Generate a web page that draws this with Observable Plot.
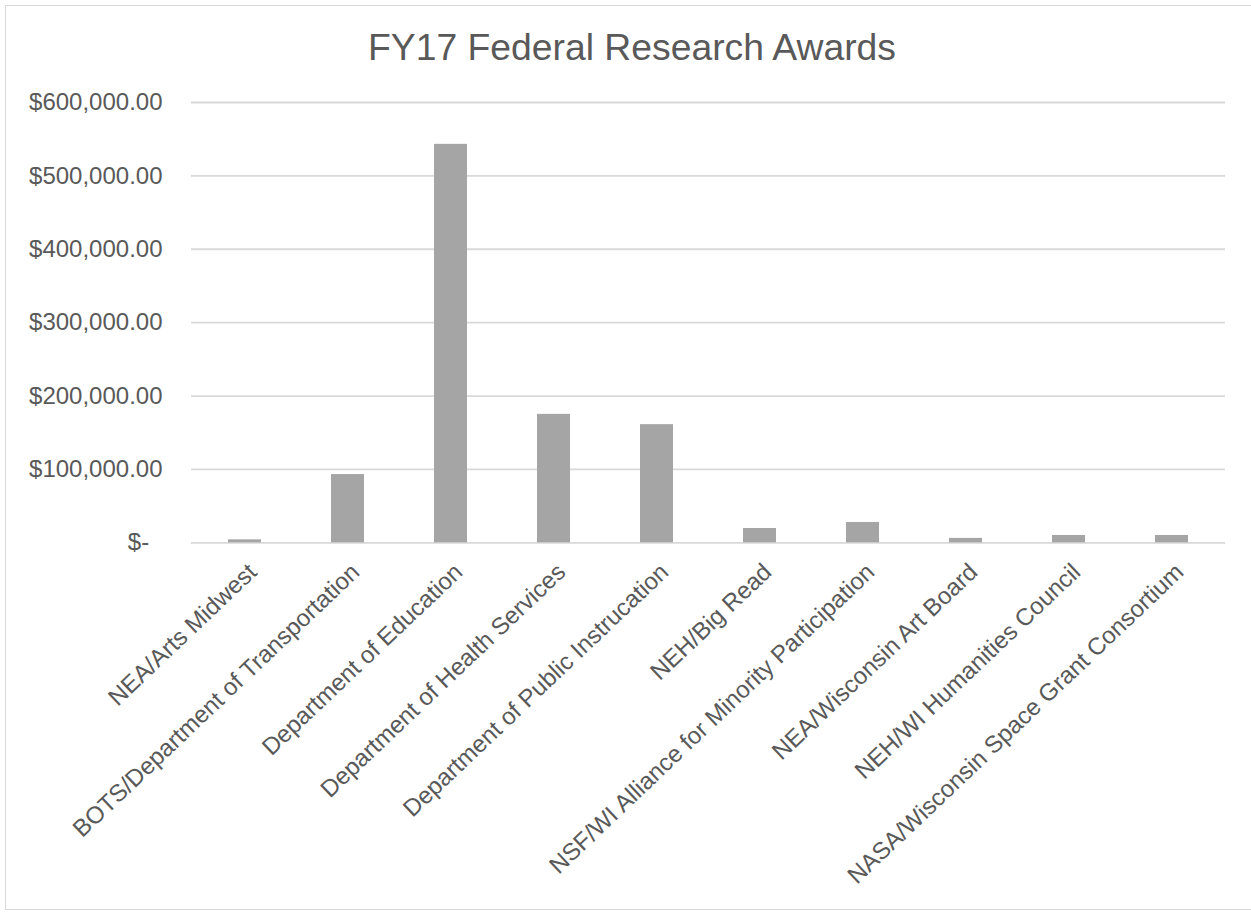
<!DOCTYPE html>
<html>
<head>
<meta charset="utf-8">
<script src="https://cdn.jsdelivr.net/npm/d3@7"></script>
<script src="https://cdn.jsdelivr.net/npm/@observablehq/plot@0.6"></script>
<style>
  html, body { margin: 0; padding: 0; background: #fff; }
  body { width: 1251px; height: 913px; position: relative; overflow: hidden; font-family: "Liberation Sans", Arial, sans-serif; }
  #frame { position: absolute; left: 5px; top: 5px; width: 1260px; height: 905px; border: 1.5px solid #D9D9D9; box-sizing: border-box; }
  #title { position: absolute; top: 29px; left: 632px; transform: translateX(-50%); white-space: nowrap;
           font-size: 37.3px; line-height: 1; color: #595959; font-family: "Liberation Sans", Arial, sans-serif; }
  #chart { position: absolute; left: 0; top: 0; }
</style>
</head>
<body>
<div id="frame"></div>
<div id="title">FY17 Federal Research Awards</div>
<div id="chart"></div>
<script>
const categories = [
  "NEA/Arts Midwest",
  "BOTS/Department of Transportation",
  "Department of Education",
  "Department of Health Services",
  "Department of Public Instrucation",
  "NEH/Big Read",
  "NSF/WI Alliance for Minority Participation",
  "NEA/Wisconsin Art Board",
  "NEH/WI Humanities Council",
  "NASA/Wisconsin Space Grant Consortium"
];
const awards = [4000, 93000, 543000, 175000, 161000, 19500, 27700, 6000, 10000, 10000];
const yTicks = [0, 100000, 200000, 300000, 400000, 500000, 600000];

const data = categories.map((c, i) => ({category: c, award: awards[i]}));

const fmt = d3.format(",.2f");
const tickFmt = d => d === 0 ? "$-\u00a0\u00a0" : "$" + fmt(d);

const chart = Plot.plot({
  width: 1251,
  height: 913,
  marginTop: 102,
  marginBottom: 370.7,
  marginLeft: 191,
  marginRight: 26,
  style: {fontFamily: "'Liberation Sans', Arial, sans-serif", color: "#595959", background: "transparent", overflow: "visible"},
  x: {domain: categories, paddingInner: 0.68, paddingOuter: 0.34, label: null},
  y: {domain: [0, 600000], label: null},
  marks: [
    Plot.ruleY(yTicks, {stroke: "#D9D9D9", strokeWidth: 1.8}),
    Plot.barY(data, {x: "category", y: "award", fill: "#A5A5A5"}),
    Plot.axisY(yTicks, {tickSize: 0, tickPadding: 29, tickFormat: tickFmt, fontSize: 24, fill: "#595959", label: null}),
    Plot.axisX({tickSize: 0, tickPadding: 0, tickRotate: -43.5, textAnchor: "end", lineAnchor: "bottom", dx: 13, dy: 31, fontSize: 24, fill: "#595959", label: null})
  ]
});
document.getElementById("chart").appendChild(chart);
</script>
</body>
</html>
